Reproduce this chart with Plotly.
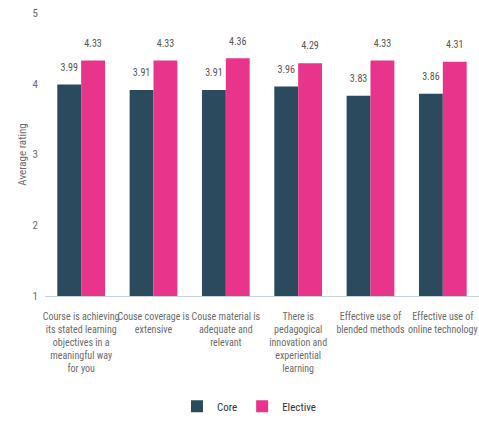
import plotly.graph_objects as go

categories = [
    "Course is achieving<br>its stated learning<br>objectives in a<br>meaningful way<br>for you",
    "Couse coverage is<br>extensive",
    "Couse material is<br>adequate and<br>relevant",
    "There is<br>pedagogical<br>innovation and<br>experiential<br>learning",
    "Effective use of<br>blended methods",
    "Effective use of<br>online technology",
]
core = [3.99, 3.91, 3.91, 3.96, 3.83, 3.86]
elective = [4.33, 4.33, 4.36, 4.29, 4.33, 4.31]
y_ticks = [1, 2, 3, 4, 5]

FONT = "Roboto Condensed, Liberation Sans, sans-serif"
GRAY = "#6b6b6b"
CORE_C = "#2b4a5e"
ELEC_C = "#e8348a"
BW = 0.33
LABEL_LIFT = 0.23

xs = list(range(len(categories)))

fig = go.Figure()
fig.add_trace(go.Bar(
    name="Core", x=xs, y=[v - 1 for v in core], base=1,
    width=BW, offset=-BW, marker_color=CORE_C, marker_line_width=0,
))
fig.add_trace(go.Bar(
    name="Elective", x=xs, y=[v - 1 for v in elective], base=1,
    width=BW, offset=0, marker_color=ELEC_C, marker_line_width=0,
))
fig.add_trace(go.Scatter(
    x=[i - BW / 2 for i in xs], y=[v + LABEL_LIFT for v in core], mode="text",
    text=[f"{v:.2f}" for v in core], textposition="middle center",
    textfont=dict(size=10, color="#555555", family=FONT),
    showlegend=False, hoverinfo="skip", cliponaxis=False,
))
fig.add_trace(go.Scatter(
    x=[i + BW / 2 for i in xs], y=[v + LABEL_LIFT for v in elective], mode="text",
    text=[f"{v:.2f}" for v in elective], textposition="middle center",
    textfont=dict(size=10, color="#555555", family=FONT),
    showlegend=False, hoverinfo="skip", cliponaxis=False,
))

fig.update_layout(
    width=479, height=433,
    margin=dict(l=45, r=0, t=13, b=137, autoexpand=False),
    paper_bgcolor="#ffffff", plot_bgcolor="#ffffff",
    font=dict(family=FONT, color=GRAY, size=11),
    showlegend=True,
    legend=dict(orientation="h", x=0.47, xanchor="center", y=-0.39, yanchor="middle",
                font=dict(size=11, color="#333333", family=FONT),
                itemwidth=30, traceorder="normal"),
)
fig.update_xaxes(
    range=[-0.5, len(categories) - 0.5],
    tickvals=xs, ticktext=categories, automargin=False, ticklabelstandoff=11,
    showline=True, linecolor="#c8d0dc", linewidth=1, showgrid=False, zeroline=False,
    ticks="", tickangle=0, tickfont=dict(size=10, color=GRAY, family=FONT),
)
fig.update_yaxes(
    range=[1, 5], tickvals=y_ticks, showgrid=False, zeroline=False, showline=False,
    automargin=False, ticklabelstandoff=6,
    ticks="", tickfont=dict(size=11, color=GRAY, family=FONT),
    title=dict(text="Average rating", font=dict(size=11, color=GRAY, family=FONT), standoff=3),
)

fig.write_html("out.html", config={"displayModeBar": False},
               post_script="document.body.style.margin='0';")
